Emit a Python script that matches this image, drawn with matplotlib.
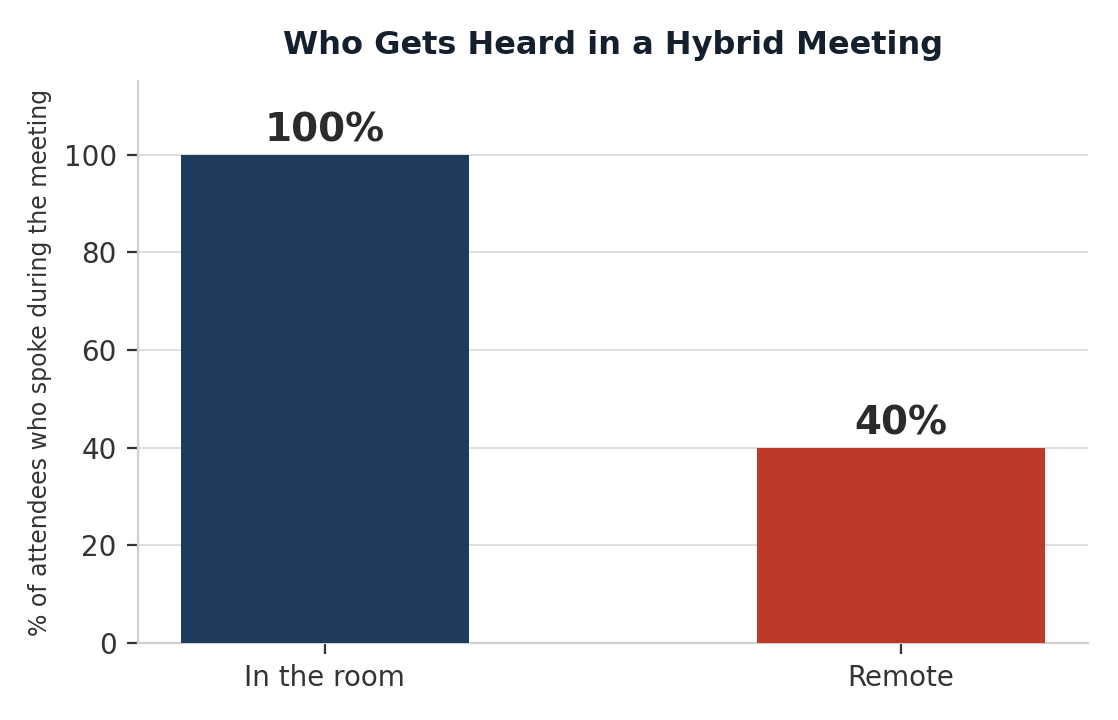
import matplotlib
matplotlib.use("Agg")
import matplotlib.pyplot as plt

categories = ["In the room", "Remote"]
spoke_pct = [100, 40]
bar_colors = ["#1e3a5c", "#bd3a2b"]

plt.rcParams["font.family"] = ["DejaVu Sans"]

fig, ax = plt.subplots(figsize=(5.59, 3.6), dpi=200)
x = range(len(categories))
bars = ax.bar(x, spoke_pct, width=0.5, color=bar_colors, zorder=3)

for b, v in zip(bars, spoke_pct):
    ax.text(b.get_x() + b.get_width() / 2, v + 1.0, f"{v}%", ha="center", va="bottom",
            fontsize=14, fontweight="bold", color="#2b2b2b")

ax.set_xticks(list(x))
ax.set_xticklabels(categories, fontsize=10, color="#333333")
ax.set_ylim(0, 115)
ax.set_yticks([0, 20, 40, 60, 80, 100])
ax.tick_params(axis="y", labelsize=10, labelcolor="#333333", length=4, color="#333333")
ax.tick_params(axis="x", length=4, color="#333333")
ax.set_ylabel("% of attendees who spoke during the meeting", fontsize=8.5, color="#333333")
ax.set_title("Who Gets Heard in a Hybrid Meeting", fontsize=11.5, fontweight="bold",
             color="#14202e", pad=10)

ax.grid(axis="y", color="#d9d9d9", lw=0.6, zorder=0)
for s in ["top", "right"]:
    ax.spines[s].set_visible(False)
for s in ["left", "bottom"]:
    ax.spines[s].set_color("#d0d0d0")
    ax.spines[s].set_linewidth(0.8)

fig.subplots_adjust(left=0.123, right=0.973, top=0.887, bottom=0.107)
fig.savefig("out.png", dpi=200)
